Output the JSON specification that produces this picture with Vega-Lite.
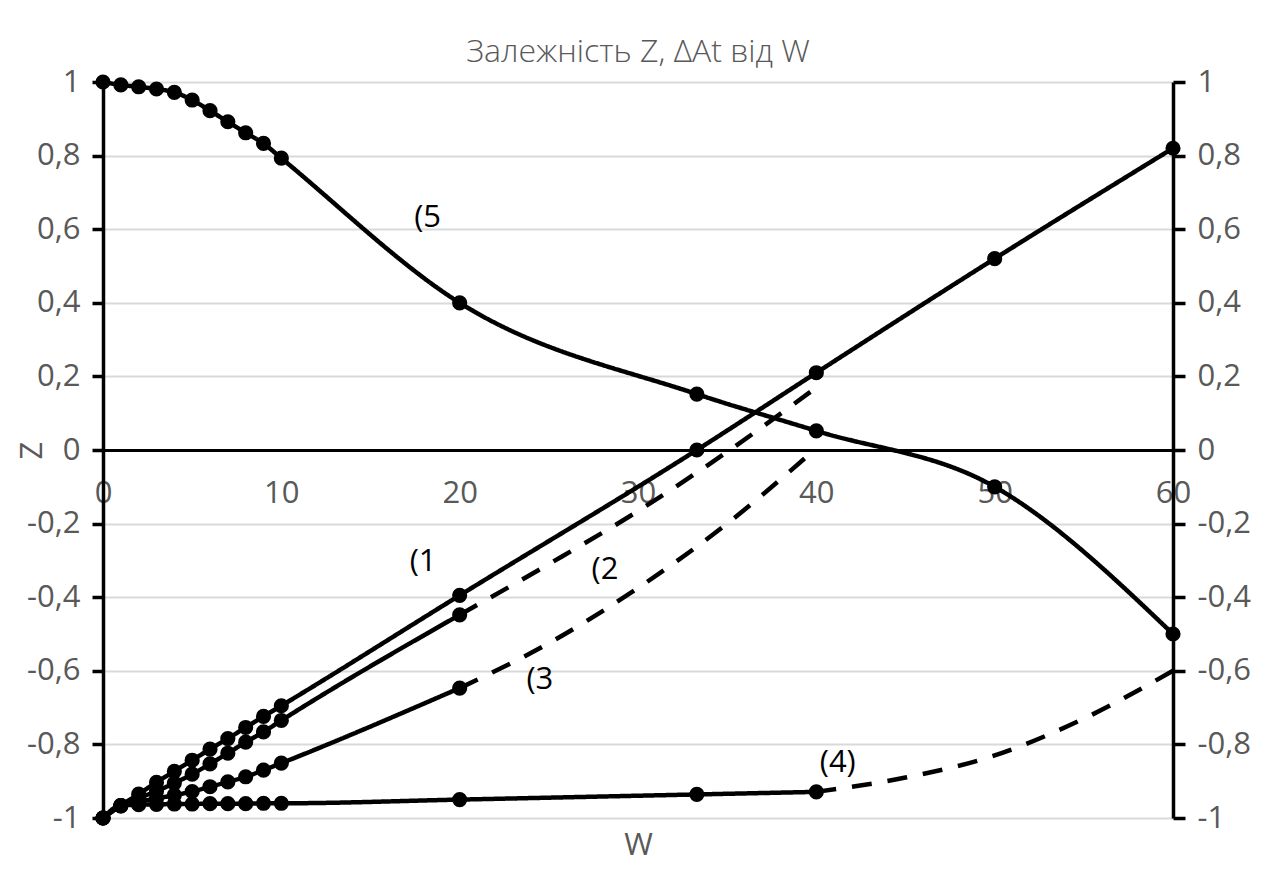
{
  "$schema": "https://vega.github.io/schema/vega-lite/v6.json",
  "width": 1070,
  "height": 736,
  "autosize": {"type": "none"},
  "padding": {"left": 103, "top": 82, "right": 99, "bottom": 52},
  "background": "white",
  "config": {
    "font": "Open Sans",
    "view": {"stroke": null},
    "title": {"font": "Open Sans", "fontSize": 32, "fontWeight": 300, "color": "#595959", "anchor": "middle", "frame": "group", "offset": -3}
  },
  "title": "Залежність Z, ΔAt від W",
  "datasets": {
    "curves": [
      {"s": "1", "seg": "solid", "W": 0, "Z": -1, "m": 1},
      {"s": "1", "seg": "solid", "W": 1, "Z": -0.966, "m": 1},
      {"s": "1", "seg": "solid", "W": 2, "Z": -0.935, "m": 1},
      {"s": "1", "seg": "solid", "W": 3, "Z": -0.903, "m": 1},
      {"s": "1", "seg": "solid", "W": 4, "Z": -0.873, "m": 1},
      {"s": "1", "seg": "solid", "W": 5, "Z": -0.843, "m": 1},
      {"s": "1", "seg": "solid", "W": 6, "Z": -0.813, "m": 1},
      {"s": "1", "seg": "solid", "W": 7, "Z": -0.784, "m": 1},
      {"s": "1", "seg": "solid", "W": 8, "Z": -0.754, "m": 1},
      {"s": "1", "seg": "solid", "W": 9, "Z": -0.724, "m": 1},
      {"s": "1", "seg": "solid", "W": 10, "Z": -0.695, "m": 1},
      {"s": "1", "seg": "solid", "W": 20, "Z": -0.395, "m": 1},
      {"s": "1", "seg": "solid", "W": 33.3, "Z": 0, "m": 1},
      {"s": "1", "seg": "solid", "W": 40, "Z": 0.21, "m": 1},
      {"s": "1", "seg": "solid", "W": 50, "Z": 0.52, "m": 1},
      {"s": "1", "seg": "solid", "W": 60, "Z": 0.82, "m": 1},

      {"s": "2", "seg": "solid", "W": 0, "Z": -1, "m": 1},
      {"s": "2", "seg": "solid", "W": 1, "Z": -0.967, "m": 1},
      {"s": "2", "seg": "solid", "W": 2, "Z": -0.946, "m": 1},
      {"s": "2", "seg": "solid", "W": 3, "Z": -0.927, "m": 1},
      {"s": "2", "seg": "solid", "W": 4, "Z": -0.905, "m": 1},
      {"s": "2", "seg": "solid", "W": 5, "Z": -0.881, "m": 1},
      {"s": "2", "seg": "solid", "W": 6, "Z": -0.853, "m": 1},
      {"s": "2", "seg": "solid", "W": 7, "Z": -0.824, "m": 1},
      {"s": "2", "seg": "solid", "W": 8, "Z": -0.794, "m": 1},
      {"s": "2", "seg": "solid", "W": 9, "Z": -0.766, "m": 1},
      {"s": "2", "seg": "solid", "W": 10, "Z": -0.735, "m": 1},
      {"s": "2", "seg": "solid", "W": 20, "Z": -0.448, "m": 1},
      {"s": "2", "seg": "dash", "W": 20, "Z": -0.448, "m": 0},
      {"s": "2", "seg": "dash", "W": 25, "Z": -0.31, "m": 0},
      {"s": "2", "seg": "dash", "W": 30, "Z": -0.166, "m": 0},
      {"s": "2", "seg": "dash", "W": 35, "Z": -0.005, "m": 0},
      {"s": "2", "seg": "dash", "W": 40, "Z": 0.17, "m": 0},

      {"s": "3", "seg": "solid", "W": 0, "Z": -1, "m": 1},
      {"s": "3", "seg": "solid", "W": 1, "Z": -0.967, "m": 1},
      {"s": "3", "seg": "solid", "W": 2, "Z": -0.956, "m": 1},
      {"s": "3", "seg": "solid", "W": 3, "Z": -0.947, "m": 1},
      {"s": "3", "seg": "solid", "W": 4, "Z": -0.938, "m": 1},
      {"s": "3", "seg": "solid", "W": 5, "Z": -0.928, "m": 1},
      {"s": "3", "seg": "solid", "W": 6, "Z": -0.915, "m": 1},
      {"s": "3", "seg": "solid", "W": 7, "Z": -0.902, "m": 1},
      {"s": "3", "seg": "solid", "W": 8, "Z": -0.888, "m": 1},
      {"s": "3", "seg": "solid", "W": 9, "Z": -0.87, "m": 1},
      {"s": "3", "seg": "solid", "W": 10, "Z": -0.851, "m": 1},
      {"s": "3", "seg": "solid", "W": 20, "Z": -0.647, "m": 1},
      {"s": "3", "seg": "dash", "W": 20, "Z": -0.647, "m": 0},
      {"s": "3", "seg": "dash", "W": 25, "Z": -0.525, "m": 0},
      {"s": "3", "seg": "dash", "W": 30, "Z": -0.375, "m": 0},
      {"s": "3", "seg": "dash", "W": 35, "Z": -0.2, "m": 0},
      {"s": "3", "seg": "dash", "W": 40, "Z": 0.005, "m": 0},

      {"s": "4", "seg": "solid", "W": 0, "Z": -1, "m": 1},
      {"s": "4", "seg": "solid", "W": 1, "Z": -0.966, "m": 1},
      {"s": "4", "seg": "solid", "W": 2, "Z": -0.964, "m": 1},
      {"s": "4", "seg": "solid", "W": 3, "Z": -0.963, "m": 1},
      {"s": "4", "seg": "solid", "W": 4, "Z": -0.962, "m": 1},
      {"s": "4", "seg": "solid", "W": 5, "Z": -0.962, "m": 1},
      {"s": "4", "seg": "solid", "W": 6, "Z": -0.961, "m": 1},
      {"s": "4", "seg": "solid", "W": 7, "Z": -0.961, "m": 1},
      {"s": "4", "seg": "solid", "W": 8, "Z": -0.961, "m": 1},
      {"s": "4", "seg": "solid", "W": 9, "Z": -0.96, "m": 1},
      {"s": "4", "seg": "solid", "W": 10, "Z": -0.96, "m": 1},
      {"s": "4", "seg": "solid", "W": 20, "Z": -0.95, "m": 1},
      {"s": "4", "seg": "solid", "W": 33.3, "Z": -0.936, "m": 1},
      {"s": "4", "seg": "solid", "W": 40, "Z": -0.929, "m": 1},
      {"s": "4", "seg": "dash", "W": 40, "Z": -0.929, "m": 0},
      {"s": "4", "seg": "dash", "W": 45, "Z": -0.89, "m": 0},
      {"s": "4", "seg": "dash", "W": 50, "Z": -0.83, "m": 0},
      {"s": "4", "seg": "dash", "W": 55, "Z": -0.73, "m": 0},
      {"s": "4", "seg": "dash", "W": 60, "Z": -0.6, "m": 0},

      {"s": "5", "seg": "solid", "W": 0, "Z": 1, "m": 1},
      {"s": "5", "seg": "solid", "W": 1, "Z": 0.992, "m": 1},
      {"s": "5", "seg": "solid", "W": 2, "Z": 0.987, "m": 1},
      {"s": "5", "seg": "solid", "W": 3, "Z": 0.981, "m": 1},
      {"s": "5", "seg": "solid", "W": 4, "Z": 0.972, "m": 1},
      {"s": "5", "seg": "solid", "W": 5, "Z": 0.951, "m": 1},
      {"s": "5", "seg": "solid", "W": 6, "Z": 0.922, "m": 1},
      {"s": "5", "seg": "solid", "W": 7, "Z": 0.892, "m": 1},
      {"s": "5", "seg": "solid", "W": 8, "Z": 0.862, "m": 1},
      {"s": "5", "seg": "solid", "W": 9, "Z": 0.833, "m": 1},
      {"s": "5", "seg": "solid", "W": 10, "Z": 0.793, "m": 1},
      {"s": "5", "seg": "solid", "W": 20, "Z": 0.4, "m": 1},
      {"s": "5", "seg": "solid", "W": 33.3, "Z": 0.152, "m": 1},
      {"s": "5", "seg": "solid", "W": 40, "Z": 0.052, "m": 1},
      {"s": "5", "seg": "solid", "W": 50, "Z": -0.1, "m": 1},
      {"s": "5", "seg": "solid", "W": 60, "Z": -0.5, "m": 1}
    ],
    "labels": [
      {"W": 18.2, "Z": 0.63, "t": "(5"},
      {"W": 17.95, "Z": -0.304, "t": "(1"},
      {"W": 28.15, "Z": -0.326, "t": "(2"},
      {"W": 24.5, "Z": -0.625, "t": "(3"},
      {"W": 41.2, "Z": -0.851, "t": "(4)"}
    ]
  },
  "layer": [
    {
      "data": {"name": "curves"},
      "mark": {"type": "line", "interpolate": "monotone", "color": "black", "strokeWidth": 4.5, "strokeCap": "butt"},
      "encoding": {
        "x": {
          "field": "W", "type": "quantitative",
          "scale": {"domain": [0, 60], "nice": false, "zero": false},
          "axis": {
            "orient": "bottom", "offset": -368, "values": [0, 10, 20, 30, 40, 50, 60],
            "grid": false, "ticks": false, "domainColor": "black", "domainWidth": 3,
            "labelFontSize": 31, "labelColor": "#595959", "labelFont": "Open Sans",
            "labelPadding": 28, "labelFlush": false, "labelOverlap": false,
            "title": "W", "titleFontSize": 31, "titleColor": "#595959", "titleFont": "Open Sans",
            "titleFontWeight": "normal", "titleX": 535, "titleY": 395, "titleBaseline": "middle", "titleAlign": "center", "zindex": 0
          }
        },
        "y": {
          "field": "Z", "type": "quantitative",
          "scale": {"domain": [-1, 1], "nice": false, "zero": false},
          "axis": {
            "orient": "left", "values": [-1, -0.8, -0.6, -0.4, -0.2, 0, 0.2, 0.4, 0.6, 0.8, 1],
            "labelExpr": "replace(toString(datum.value), '.', ',')",
            "grid": true, "gridColor": "#d9d9d9", "gridWidth": 2,
            "domainColor": "black", "domainWidth": 3.5, "tickColor": "black", "tickWidth": 3.5, "tickSize": 11,
            "labelFontSize": 31, "labelColor": "#595959", "labelFont": "Open Sans", "labelPadding": 12,
            "labelFlush": false, "labelOverlap": false,
            "title": "Z", "titleFontSize": 31, "titleColor": "#595959", "titleFont": "Open Sans", "titleFontWeight": "normal",
            "titleAngle": -90, "titleX": -71, "titleY": 368, "titleBaseline": "middle", "titleAlign": "center"
          }
        },
        "detail": {"field": "s"},
        "strokeDash": {
          "field": "seg", "type": "nominal",
          "scale": {"domain": ["solid", "dash"], "range": [[1, 0], [20, 16]]},
          "legend": null
        }
      }
    },
    {
      "data": {"name": "curves"},
      "transform": [{"filter": "datum.m == 1"}],
      "mark": {"type": "point", "filled": true, "shape": "circle", "color": "black", "opacity": 1, "size": 230},
      "encoding": {
        "x": {"field": "W", "type": "quantitative"},
        "y": {
          "field": "Z", "type": "quantitative",
          "axis": {
            "orient": "right", "values": [-1, -0.8, -0.6, -0.4, -0.2, 0, 0.2, 0.4, 0.6, 0.8, 1],
            "labelExpr": "replace(toString(datum.value), '.', ',')",
            "grid": false,
            "domainColor": "black", "domainWidth": 3.5, "tickColor": "black", "tickWidth": 3.5, "tickSize": 12,
            "labelFontSize": 31, "labelColor": "#595959", "labelFont": "Open Sans", "labelPadding": 12,
            "labelFlush": false, "labelOverlap": false, "title": null
          }
        }
      }
    },
    {
      "data": {"name": "labels"},
      "mark": {"type": "text", "font": "Open Sans", "fontSize": 31, "color": "black", "align": "center", "baseline": "middle"},
      "encoding": {
        "x": {"field": "W", "type": "quantitative"},
        "y": {"field": "Z", "type": "quantitative", "axis": null},
        "text": {"field": "t"}
      }
    }
  ],
  "resolve": {"axis": {"y": "independent"}}
}
